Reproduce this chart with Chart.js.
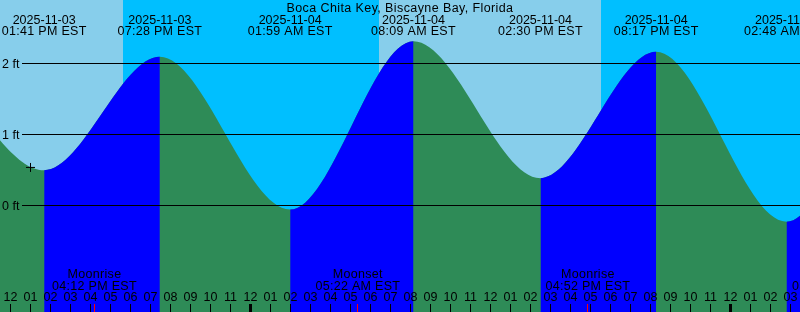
<!DOCTYPE html>
<html>
<head>
<meta charset="utf-8">
<script src="https://cdn.jsdelivr.net/npm/chart.js@4/dist/chart.umd.min.js"></script>
<style>
  html, body { margin: 0; padding: 0; background: #87ceeb; }
  canvas { display: block; }
</style>
</head>
<body>
<canvas id="tides" width="800" height="312"></canvas>
<script>
var stationName = 'Boca Chita Key, Biscayne Bay, Florida';

// tide extremes (the first two and last two are off the picture)
var tideDates = ['2025-11-03', '2025-11-03', '2025-11-03', '2025-11-03', '2025-11-04', '2025-11-04', '2025-11-04', '2025-11-04', '2025-11-05', '2025-11-05', '2025-11-05'];
var tideTimes = ['00:55 AM EST', '07:05 AM EST', '01:41 PM EST', '07:28 PM EST', '01:59 AM EST', '08:09 AM EST', '02:30 PM EST', '08:17 PM EST', '02:48 AM EST', '09:00 AM EST', '03:20 PM EST'];
var tideLevels = [0.05, 2.12, 0.50, 2.09, -0.05, 2.31, 0.39, 2.16, -0.22, 2.30, 0.30];

// sunset / sunrise
var sunDates = ['2025-11-03', '2025-11-04', '2025-11-04', '2025-11-05'];
var sunTimes = ['05:36 PM EST', '06:27 AM EST', '05:33 PM EST', '06:28 AM EST'];
var sunKinds = ['set', 'rise', 'set', 'rise'];

var moonDates = ['2025-11-03', '2025-11-04', '2025-11-04', '2025-11-05'];
var moonTimes = ['04:12 PM EST', '05:22 AM EST', '04:52 PM EST', '05:12 AM EST'];
var moonKinds = ['Moonrise', 'Moonset', 'Moonrise', 'Moonset'];

var levelTicks = [0, 1, 2];
var nowTime = ['2025-11-03', '01:00 PM EST'];
var nowLevel = 0.54;

// hours counted from noon 2025-11-03
function toHours(d, t) {
  var day = parseInt(d.slice(8, 10), 10) - 3;
  var hh = parseInt(t.slice(0, 2), 10) % 12;
  var mm = parseInt(t.slice(3, 5), 10);
  if (t.indexOf('PM') >= 0) hh += 12;
  return day * 24 + hh + mm / 60 - 12;
}

var tidePoints = tideLevels.map(function(v, i) {
  return { x: toHours(tideDates[i], tideTimes[i]), y: v };
});

var FONT = '12.5px "Liberation Sans", Arial, sans-serif';

var xtidePlugin = {
  id: 'xtide',
  beforeDatasetsDraw: function(chart) {
    var ctx = chart.ctx, xs = chart.scales.x;
    ctx.save();
    ctx.fillStyle = '#87ceeb';
    ctx.fillRect(0, 0, chart.width, chart.height);
    // night bands
    ctx.fillStyle = '#00bfff';
    var start = null;
    sunKinds.forEach(function(k, i) {
      var px = Math.round(xs.getPixelForValue(toHours(sunDates[i], sunTimes[i])));
      if (k === 'set') start = px;
      else {
        var s = start === null ? 0 : start;
        ctx.fillRect(s, 0, px - s, chart.height);
        start = null;
      }
    });
    if (start !== null) ctx.fillRect(start, 0, chart.width - start, chart.height);
    ctx.restore();
  },
  afterDatasetsDraw: function(chart) {
    var ctx = chart.ctx, xs = chart.scales.x, ys = chart.scales.y;
    ctx.save();
    ctx.font = FONT;
    ctx.fillStyle = '#000';
    ctx.strokeStyle = '#000';
    ctx.lineWidth = 1;

    // level lines
    ctx.textAlign = 'left';
    ctx.textBaseline = 'middle';
    levelTicks.forEach(function(v) {
      var py = Math.floor(ys.getPixelForValue(v)) + 0.5;
      ctx.beginPath();
      ctx.moveTo(22, py);
      ctx.lineTo(chart.width, py);
      ctx.stroke();
      ctx.fillText(v + ' ft', 2, py + 1);
    });

    // title and tide event labels
    ctx.textAlign = 'center';
    ctx.letterSpacing = '0.4px';
    ctx.fillText(stationName, chart.width / 2, 8.5);
    tideDates.forEach(function(d, i) {
      var px = xs.getPixelForValue(toHours(d, tideTimes[i]));
      ctx.letterSpacing = '0px';
      ctx.fillText(d, px, 20.5);
      ctx.letterSpacing = '0.3px';
      ctx.fillText(tideTimes[i], px, 32);
    });

    // moon labels
    moonDates.forEach(function(d, i) {
      var px = xs.getPixelForValue(toHours(d, moonTimes[i]));
      ctx.fillText(moonKinds[i], px, 275);
      ctx.fillText(moonTimes[i], px, 287);
    });
    ctx.letterSpacing = '0px';

    // hour ticks and labels
    for (var h = Math.ceil(xs.min); h <= xs.max; h++) {
      var px = Math.floor(xs.getPixelForValue(h));
      var hod = ((h + 12) % 24 + 24) % 24;
      var lab = hod % 12 === 0 ? 12 : hod % 12;
      ctx.fillText((lab < 10 ? '0' : '') + lab, px + 0.5, 298);
      if (hod === 0) ctx.fillRect(px - 1, 304, 3, 8);
      else ctx.fillRect(px, 304, 1, 8);
    }
    ctx.fillStyle = '#ff0000';
    moonDates.forEach(function(d, i) {
      var px = Math.floor(xs.getPixelForValue(toHours(d, moonTimes[i])));
      ctx.fillRect(px, 304, 1, 8);
    });
    ctx.restore();
  }
};

new Chart(document.getElementById('tides').getContext('2d'), {
  type: 'line',
  data: {
    datasets: [{
      type: 'scatter',
      order: 0,
      data: [{ x: toHours(nowTime[0], nowTime[1]), y: nowLevel }],
      pointStyle: 'cross',
      pointRadius: 4.5,
      borderColor: '#000',
      borderWidth: 1
    }, {
      // rising parts, blue
      order: 1,
      data: tidePoints,
      parsing: false,
      cubicInterpolationMode: 'monotone',
      borderWidth: 0,
      borderColor: 'rgba(0,0,0,0)',
      pointRadius: 0,
      fill: 'start',
      backgroundColor: 'rgba(0,0,0,0)',
      segment: {
        backgroundColor: function(c) {
          return c.p1.parsed.y > c.p0.parsed.y ? '#0000ff' : 'rgba(0,0,0,0)';
        }
      }
    }, {
      // whole water body, green underneath
      order: 2,
      data: tidePoints,
      parsing: false,
      cubicInterpolationMode: 'monotone',
      borderWidth: 0,
      borderColor: 'rgba(0,0,0,0)',
      pointRadius: 0,
      fill: 'start',
      backgroundColor: '#2e8b57'
    }]
  },
  options: {
    responsive: false,
    devicePixelRatio: 1,
    animation: false,
    layout: { padding: 0, autoPadding: false },
    plugins: { legend: { display: false }, tooltip: { enabled: false } },
    scales: {
      x: { type: 'linear', min: -0.525, max: 39.475, display: false },
      y: { min: -1.486, max: 2.887, display: false }
    }
  },
  plugins: [xtidePlugin]
});
</script>
</body>
</html>
